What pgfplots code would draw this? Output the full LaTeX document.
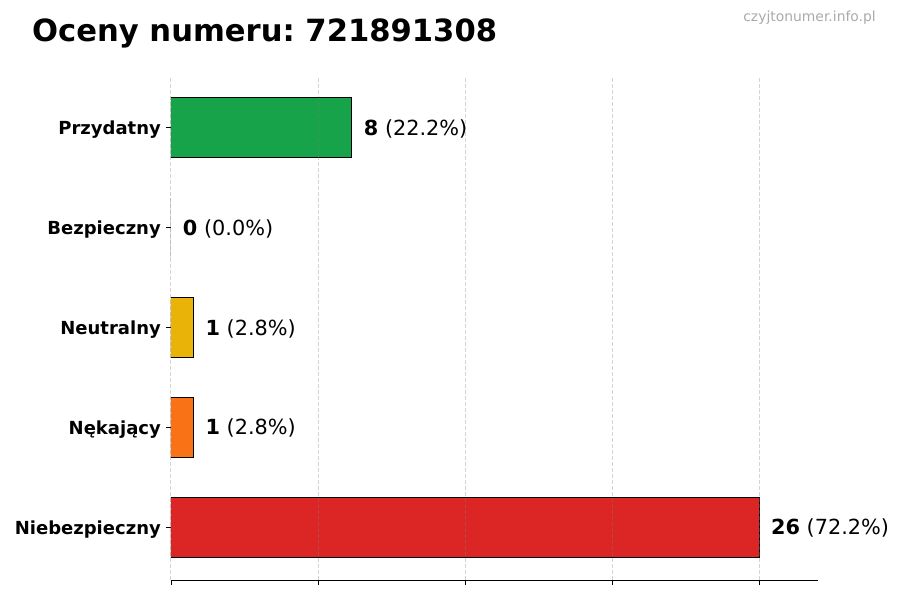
\documentclass[border=0pt]{standalone}
\usepackage{pgfplots}
\pgfplotsset{compat=1.18}
\usepackage{fontspec}
\setmainfont{DejaVu Sans}
\frenchspacing
\definecolor{cgreen}{HTML}{16A34A}
\definecolor{cyellow}{HTML}{EAB308}
\definecolor{corange}{HTML}{F97316}
\definecolor{cred}{HTML}{DC2626}
\definecolor{wm}{HTML}{AAAAAA}
\begin{document}
\begin{tikzpicture}[x=1pt,y=1pt]
\path[use as bounding box] (0,0) rectangle (900,600);
\node[anchor=base west, inner sep=0pt, font=\bfseries\fontsize{30.6}{36}\selectfont] at (32,558) {Oceny numeru: 721891308};
\node[anchor=base east, inner sep=0pt, text=wm, font=\fontsize{13.9}{16}\selectfont] at (876,578) {czyjtonumer.info.pl};
\begin{axis}[
  at={(171pt,20pt)}, anchor=south west,
  scale only axis, width=647pt, height=504pt,
  xbar, bar shift=0pt, bar width=0.6,
  xmin=0, xmax=28.6, ymin=-0.53, ymax=4.52,
  enlargelimits=false,
  xtick={0,6.5,13,19.5,26}, xticklabels={},
  ytick={0,1,2,3,4},
  yticklabels={Niebezpieczny,Nękający,Neutralny,Bezpieczny,Przydatny},
  yticklabel style={font=\bfseries\fontsize{18}{22}\selectfont, inner sep=0pt, xshift=-5pt, yshift=-2pt},
  axis x line=bottom, axis y line=left,
  axis line style={-, line width=0.9pt},
  y axis line style={draw=none},
  tick align=outside, major tick length=5pt,
  tick style={line width=0.9pt, black},
  xmajorgrids, grid style={dash pattern=on 4pt off 2pt, gray, opacity=0.35, line width=1pt},
  axis on top,
  valbar/.style={draw=black, line width=1pt, point meta=explicit symbolic, nodes near coords},
  every node near coord/.append style={anchor=west, inner sep=0pt, xshift=11.5pt, yshift=-1pt, font=\fontsize{20.8}{24}\selectfont, text=black},
]
\addplot[valbar, fill=cgreen] coordinates {(8,4) [\textbf{8} (22.2\%)]};
\addplot[valbar, fill=white] coordinates {(0,3) [\textbf{0} (0.0\%)]};
\addplot[valbar, fill=cyellow] coordinates {(1,2) [\textbf{1} (2.8\%)]};
\addplot[valbar, fill=corange] coordinates {(1,1) [\textbf{1} (2.8\%)]};
\addplot[valbar, fill=cred] coordinates {(26,0) [\textbf{26} (72.2\%)]};
\addplot[sharp plot, draw=black, line width=1pt, no marks, forget plot] coordinates {(0,2.7) (0,3.3)};
\end{axis}
\end{tikzpicture}
\end{document}
